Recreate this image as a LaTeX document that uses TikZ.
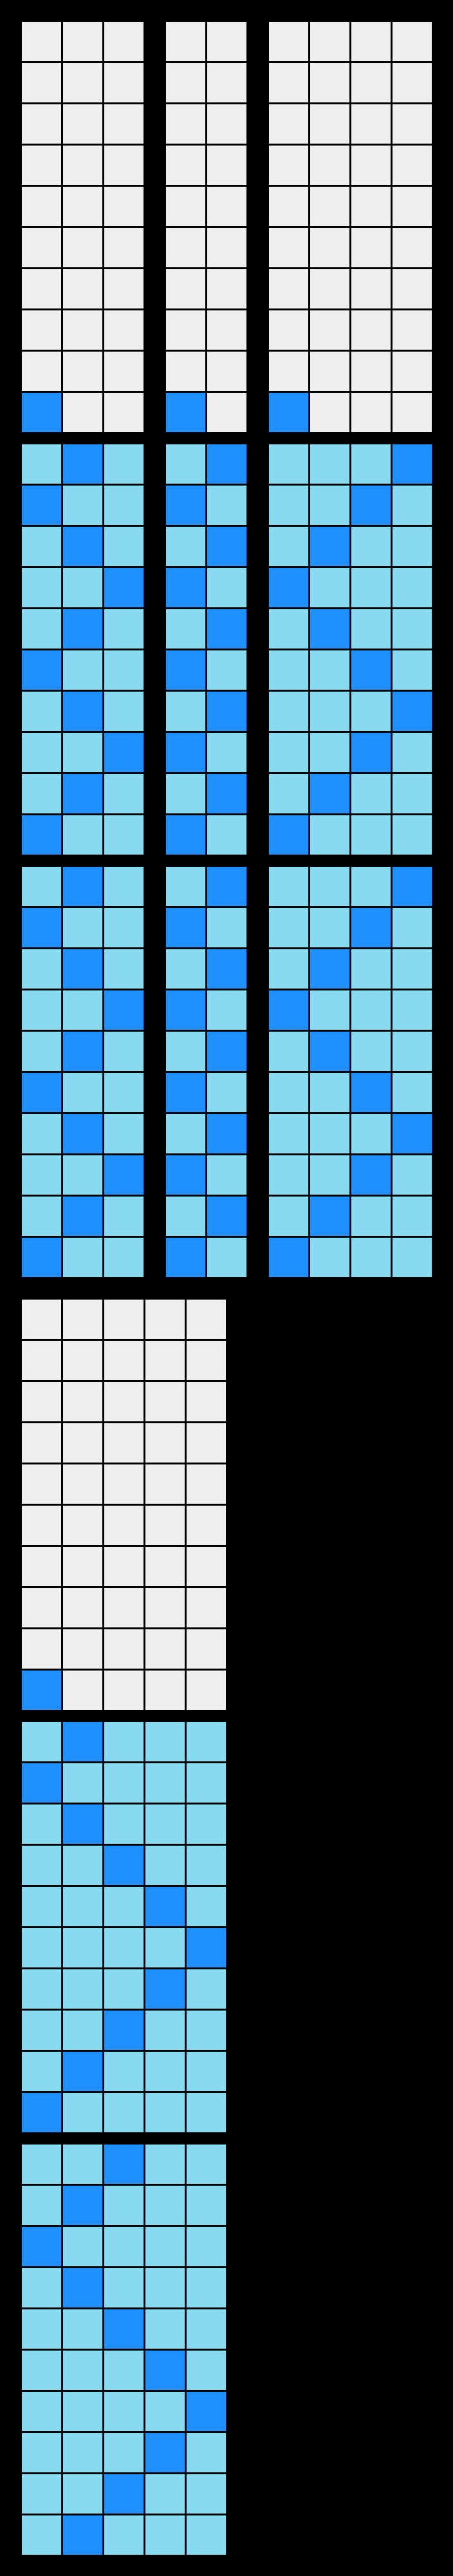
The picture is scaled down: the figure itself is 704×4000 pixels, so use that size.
\documentclass[tikz,border=0pt]{standalone}
\definecolor{cgray}{RGB}{239,239,239}
\definecolor{dblue}{RGB}{30,144,255}
\definecolor{lblue}{RGB}{136,218,240}
\newcommand\cellgrid[5]{%
  \foreach \d [count=\r from 0] in {#5} {
    \foreach \c in {1,...,#3} {
      \ifnum\c=\d\relax \def\cellcol{dblue}\else\def\cellcol{#4}\fi
      \fill[\cellcol] ({#1+64*(\c-1)},{#2+64*\r}) rectangle ++(61,61);
    }
  }%
}
\begin{document}
\begin{tikzpicture}[x=0.5pt,y=-0.5pt]
\fill[black] (0,0) rectangle (704,4000);
% top group, panel 1
\cellgrid{34}{34}{3}{cgray}{0,0,0,0,0,0,0,0,0,1}
\cellgrid{258}{34}{2}{cgray}{0,0,0,0,0,0,0,0,0,1}
\cellgrid{418}{34}{4}{cgray}{0,0,0,0,0,0,0,0,0,1}
% top group, panels 2 and 3
\foreach \py in {690,1346} {
  \cellgrid{34}{\py}{3}{lblue}{2,1,2,3,2,1,2,3,2,1}
  \cellgrid{258}{\py}{2}{lblue}{2,1,2,1,2,1,2,1,2,1}
  \cellgrid{418}{\py}{4}{lblue}{4,3,2,1,2,3,4,3,2,1}
}
% lower group
\cellgrid{34}{2018}{5}{cgray}{0,0,0,0,0,0,0,0,0,1}
\cellgrid{34}{2674}{5}{lblue}{2,1,2,3,4,5,4,3,2,1}
\cellgrid{34}{3330}{5}{lblue}{3,2,1,2,3,4,5,4,3,2}
\end{tikzpicture}
\end{document}
